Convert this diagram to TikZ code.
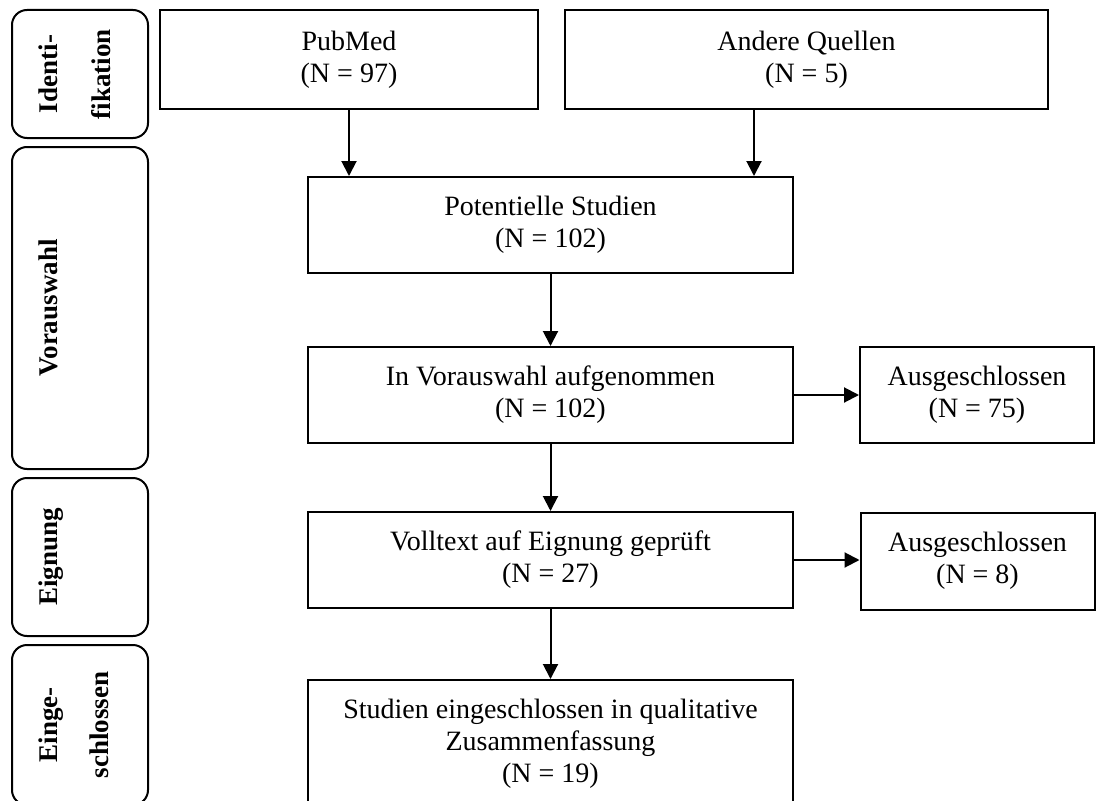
\documentclass[tikz,border=0pt]{standalone}
\usepackage{fontspec}
\setmainfont{Liberation Serif}
\usetikzlibrary{arrows.meta}
\begin{document}
\begin{tikzpicture}[x=1pt,y=-1pt,
  box/.style={draw, line width=2pt, align=center, inner sep=0pt,
    font=\fontsize{28}{32}\selectfont},
  phase/.style={draw, line width=2pt, rounded corners=15pt, inner sep=0pt, minimum width=136pt},
  plabel/.style={rotate=90, anchor=base, inner sep=0pt,
    font=\fontsize{27}{31}\selectfont\bfseries},
  arr/.style={line width=2pt, -{Triangle[width=15pt,length=15pt]}}]
\useasboundingbox (0,0) rectangle (1105,800);
\clip (0,0) rectangle (1105,800);
% phase boxes
\node[phase, minimum height=128pt] (ph1) at (80,74) {};
\node[phase, minimum height=322pt] (ph2) at (80,308) {};
\node[phase, minimum height=158pt] (ph3) at (80,557) {};
\node[phase, minimum height=160pt] (ph4) at (80,725) {};
\node[plabel] (l1a) at (57,74) {Identi-};
\node[plabel] (l1b) at (110,74) {fikation};
\node[plabel] (l2) at (57,308) {Vorauswahl};
\node[plabel] (l3) at (57,557) {Eignung};
\node[plabel] (l4a) at (57,725) {Einge-};
\node[plabel] (l4b) at (108,725) {schlossen};
% main boxes
\node[box, minimum width=378pt, minimum height=99pt] (pub) at (349,59.5) {PubMed\\(N = 97)};
\node[box, minimum width=483pt, minimum height=99pt] (and) at (806.5,59.5) {Andere Quellen\\(N = 5)};
\node[box, minimum width=485pt, minimum height=96pt] (pot) at (550.5,225) {Potentielle Studien\\(N = 102)};
\node[box, minimum width=485pt, minimum height=96pt] (vor) at (550.5,395) {In Vorauswahl aufgenommen\\(N = 102)};
\node[box, minimum width=234pt, minimum height=96pt] (aus1) at (977,395) {Ausgeschlossen\\(N = 75)};
\node[box, minimum width=485pt, minimum height=96pt] (voll) at (550.5,560) {Volltext auf Eignung geprüft\\(N = 27)};
\node[box, minimum width=234pt, minimum height=97pt] (aus2) at (977.5,561) {Ausgeschlossen\\(N = 8)};
\node[box, minimum width=485pt, minimum height=127pt] (stu) at (550.5,743.5) {Studien eingeschlossen in qualitative\\Zusammenfassung\\(N = 19)};
% arrows
\draw[arr] (pub.south) -- (pub.south |- pot.north);
\draw[arr] ([xshift=-40pt]pot.north east |- and.south) -- ([xshift=-40pt]pot.north east);
\draw[arr] (pot.south) -- (vor.north);
\draw[arr] (vor.east) -- (aus1.west);
\draw[arr] (vor.south) -- (voll.north);
\draw[arr] (voll.east) -- (voll.east -| aus2.west);
\draw[arr] (voll.south) -- (stu.north);
\end{tikzpicture}
\end{document}
